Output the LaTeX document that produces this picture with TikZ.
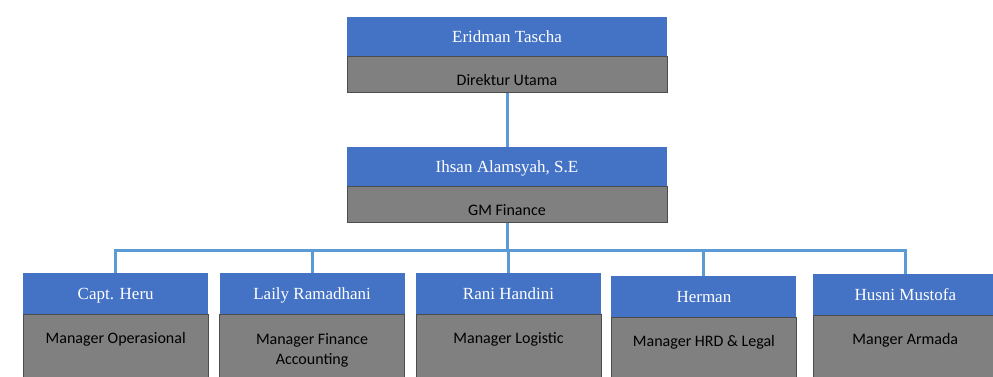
\documentclass[tikz,border=0pt]{standalone}
\usepackage{fontspec}
\setmainfont{Liberation Serif}
\newfontfamily\calibri{Carlito}
\usetikzlibrary{positioning}
\definecolor{bluebox}{HTML}{4472C4}
\definecolor{greybox}{HTML}{808080}
\definecolor{linkblue}{HTML}{5B9BD5}

\begin{document}
\begin{tikzpicture}[namebox/.style={rectangle, fill=bluebox, text=white, inner sep=0pt, minimum width=185pt, minimum height=40.5pt, text height=11.5pt, text depth=0pt, font=\fontsize{17}{20}\selectfont},
  rolebox/.style={rectangle, fill=greybox, draw=black!70, line width=0.6pt, inner xsep=0pt, inner ysep=3pt, minimum width=185pt, align=center, text height=26.5pt, text depth=45pt, font=\calibri\fontsize{16}{20}\selectfont},
  topbox/.style={minimum width=320pt},
  link/.style={draw=linkblue, line width=3pt}]
  \useasboundingbox (0,0) rectangle (993pt,-376pt);
  \clip (0,0) rectangle (993pt,-376pt);
  % top
  \node[namebox, topbox, minimum height=39pt] (eridman) at (507pt,-36.5pt) {Eridman Tascha};
  \node[rolebox, topbox, below=0pt of eridman, minimum height=36pt, inner ysep=0pt, text height=21pt, text depth=0pt] (eridmanrole) {Direktur Utama};
  \node[namebox, topbox, minimum height=39pt, below=54pt of eridmanrole] (ihsan) {Ihsan Alamsyah, S.E};
  \node[rolebox, topbox, below=0pt of ihsan, minimum height=36pt, inner ysep=0pt, text height=21pt, text depth=0pt] (ihsanrole) {GM Finance};
  % managers
  \node[namebox, below=50pt of ihsanrole, xshift=1.5pt] (rani) {Rani Handini};
  \node[namebox, left=11pt of rani] (laily) {Laily Ramadhani};
  \node[namebox, left=11pt of laily] (heru) {Capt. Heru};
  \node[namebox, right=10pt of rani, yshift=-3pt] (herman) {Herman};
  \node[namebox, right=16pt of herman, yshift=2pt] (husni) {Husni Mustofa};
  \node[rolebox, below=0pt of heru] (herurole) {Manager Operasional};
  \node[rolebox, below=0pt of laily, text height=47.5pt, text depth=25pt] (lailyrole) {Manager Finance\\Accounting};
  \node[rolebox, below=0pt of rani] (ranirole) {Manager Logistic};
  \node[rolebox, below=0pt of herman] (hermanrole) {Manager HRD \& Legal};
  \node[rolebox, below=0pt of husni] (husnirole) {Manger Armada};
  % lines
  \coordinate (bus) at ([yshift=-28pt]ihsanrole.south);
  \path[link] (eridmanrole.south) -- (ihsan.north);
  \path[link] (ihsanrole.south) -- (bus);
  \path[link] (heru.north) |- (bus) -| (husni.north);
  \foreach \who in {laily, rani, herman}
    \path[link] (\who.north) -- (\who.north |- bus);
\end{tikzpicture}
\end{document}
